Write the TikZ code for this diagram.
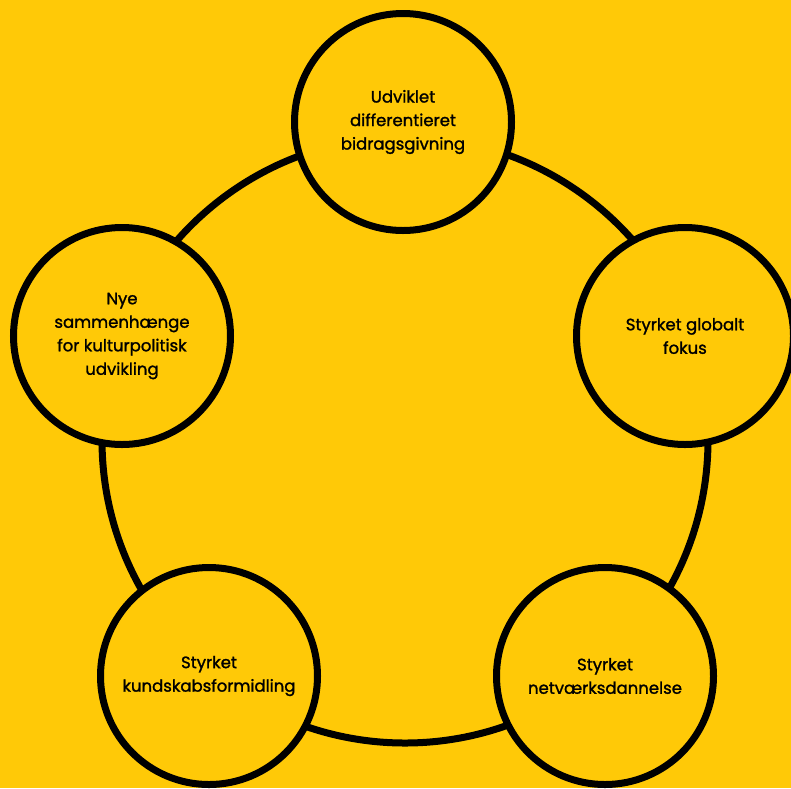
\documentclass[tikz,border=0pt]{standalone}
\usepackage{fontspec}
\setmainfont{Poppins}[FakeBold=1.4]
\definecolor{gul}{HTML}{FFC907}

\tikzstyle{maal} = [circle, draw=black, line width=7pt, fill=gul, minimum size=217pt, inner sep=0pt, align=center, font=\fontsize{16.5}{23.5}\selectfont]
\tikzstyle{ring} = [draw=black, line width=7pt]

\begin{document}
\begin{tikzpicture}[x=1pt, y=-1pt]
\fill[gul] (0,0) rectangle (791,788);
\useasboundingbox (0,0) rectangle (791,788);

% ringen bag cirklerne
\coordinate (midte) at (405,440);
\draw[ring] (midte) circle[radius=303pt];

% de fem indsatsomraader
\node[maal] (udvikling) at (403,122) {Udviklet\\differentieret\\bidragsgivning};
\node[maal] (global) at (685,336) {Styrket globalt\\fokus};
\node[maal] (netvaerk) at (605,676) {Styrket\\netværksdannelse};
\node[maal] (kundskab) at (209,676) {Styrket\\kundskabsformidling};
\node[maal] (nye) at (122,336) {Nye\\sammenhænge\\for kulturpolitisk\\udvikling};
\end{tikzpicture}
\end{document}
